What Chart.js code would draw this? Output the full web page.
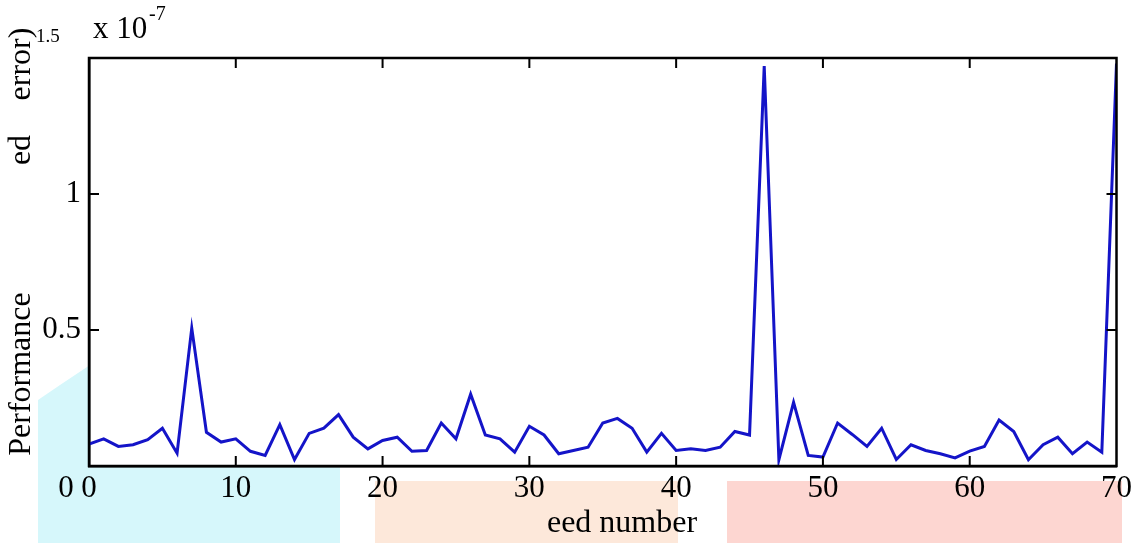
<!DOCTYPE html>
<html>
<head>
<meta charset="utf-8">
<script src="https://cdn.jsdelivr.net/npm/chart.js@4.4.1/dist/chart.umd.min.js"></script>
<style>
  html, body { margin: 0; padding: 0; background: #fff; }
  #wrap { width: 1136px; height: 543px; position: relative; }
</style>
</head>
<body>
<div id="wrap"><canvas id="perfChart" width="1136" height="543"></canvas></div>
<script>
// seed index (x) and performance error in units of 1e-7 (y)
const seedNumbers = [];
for (let i = 0; i <= 70; i++) seedNumbers.push(i);
const perfValues = [
  0.081, 0.100, 0.072, 0.078, 0.097, 0.139, 0.047, 0.507, 0.124, 0.088,
  0.100, 0.054, 0.039, 0.152, 0.024, 0.120, 0.139, 0.189, 0.106, 0.063,
  0.094, 0.106, 0.054, 0.057, 0.158, 0.100, 0.264, 0.114, 0.100, 0.051,
  0.146, 0.114, 0.045, 0.057, 0.069, 0.158, 0.175, 0.139, 0.051, 0.120,
  0.057, 0.063, 0.057, 0.069, 0.127, 0.114, 1.470, 0.023, 0.234, 0.039,
  0.033, 0.158, 0.116, 0.072, 0.139, 0.024, 0.078, 0.057, 0.045, 0.030,
  0.055, 0.072, 0.169, 0.127, 0.023, 0.078, 0.106, 0.045, 0.088, 0.051,
  1.480
];
const xTicks = [0, 10, 20, 30, 40, 50, 60, 70];
const yTicks = [0.5, 1];

const serif = '"Liberation Serif", "Times New Roman", serif';

// faint watermark blocks behind the axes, plot area stays white
const backdrop = {
  id: 'backdrop',
  beforeDraw(chart) {
    const { ctx, chartArea: a } = chart;
    ctx.save();
    ctx.fillStyle = '#d6f7fb';
    ctx.beginPath();
    ctx.moveTo(38, 400); ctx.lineTo(60, 385); ctx.lineTo(90, 365);
    ctx.lineTo(340, 365); ctx.lineTo(340, 543); ctx.lineTo(38, 543);
    ctx.closePath();
    ctx.fill();
    ctx.fillStyle = '#fde8da';
    ctx.fillRect(375, 481, 303, 62);
    ctx.fillStyle = '#fdd6d1';
    ctx.fillRect(727, 481, 395, 62);
    ctx.fillStyle = '#ffffff';
    ctx.fillRect(a.left, a.top, a.right - a.left, a.bottom - a.top);
    ctx.restore();
  }
};

// box, inward ticks and the loose text pieces
const frame = {
  id: 'frame',
  afterDraw(chart) {
    const { ctx, chartArea: a, scales } = chart;
    ctx.save();
    ctx.strokeStyle = '#000';
    ctx.lineWidth = 2.5;
    ctx.strokeRect(a.left, a.top, a.right - a.left, a.bottom - a.top);
    ctx.lineWidth = 2;
    ctx.beginPath();
    xTicks.slice(1, -1).forEach(v => {
      const px = scales.x.getPixelForValue(v);
      ctx.moveTo(px, a.bottom); ctx.lineTo(px, a.bottom - 10);
      ctx.moveTo(px, a.top); ctx.lineTo(px, a.top + 10);
    });
    yTicks.forEach(v => {
      const py = scales.y.getPixelForValue(v);
      ctx.moveTo(a.left, py); ctx.lineTo(a.left + 10, py);
      ctx.moveTo(a.right, py); ctx.lineTo(a.right - 10, py);
    });
    ctx.stroke();

    ctx.fillStyle = '#000';
    ctx.textBaseline = 'middle';
    // exponent label
    ctx.textAlign = 'left';
    ctx.font = '19px ' + serif;
    ctx.fillText('1.5', 36, 37);
    ctx.font = '31px ' + serif;
    ctx.fillText('x 10', 93, 30);
    ctx.font = '20px ' + serif;
    ctx.fillText('-7', 149, 15);
    // stray zero left of the axis
    ctx.font = '31px ' + serif;
    ctx.textAlign = 'center';
    ctx.fillText('0', 66, 489);

    // x title
    ctx.font = '32px ' + serif;
    ctx.fillText('eed number', 622, 524);

    // y title fragments
    const vText = (t, x, y) => {
      ctx.save();
      ctx.translate(x, y);
      ctx.rotate(-Math.PI / 2);
      ctx.fillText(t, 0, 0);
      ctx.restore();
    };
    vText('Performance', 22, 374);
    vText('ed', 22, 150);
    vText('error)', 22, 64);
    ctx.restore();
  }
};

new Chart(document.getElementById('perfChart'), {
  type: 'line',
  data: {
    labels: seedNumbers,
    datasets: [{
      data: perfValues,
      borderColor: '#1414c8',
      borderWidth: 3,
      pointRadius: 0,
      tension: 0,
      fill: false
    }]
  },
  options: {
    responsive: false,
    animation: false,
    layout: { padding: { left: 0, right: 14, top: 58, bottom: 0 } },
    plugins: {
      legend: { display: false },
      tooltip: { enabled: false }
    },
    scales: {
      x: {
        type: 'linear',
        min: 0,
        max: 70,
        afterFit: s => { s.height = 77; },
        afterBuildTicks: s => { s.ticks = xTicks.map(v => ({ value: v })); },
        grid: { display: true, drawOnChartArea: false, drawTicks: false },
        border: { display: true, color: '#000', width: 2.5 },
        ticks: {
          color: '#000',
          padding: 4,
          font: { family: serif, size: 31 },
          maxRotation: 0
        }
      },
      y: {
        min: 0,
        max: 1.5,
        afterFit: s => { s.width = 89; },
        afterBuildTicks: s => { s.ticks = yTicks.map(v => ({ value: v })); },
        grid: { display: true, drawOnChartArea: false, drawTicks: false },
        border: { display: true, color: '#000', width: 2.5 },
        ticks: {
          color: '#000',
          padding: 8,
          font: { family: serif, size: 31 },
          callback: v => String(v)
        }
      }
    }
  },
  plugins: [backdrop, frame]
});
</script>
</body>
</html>
